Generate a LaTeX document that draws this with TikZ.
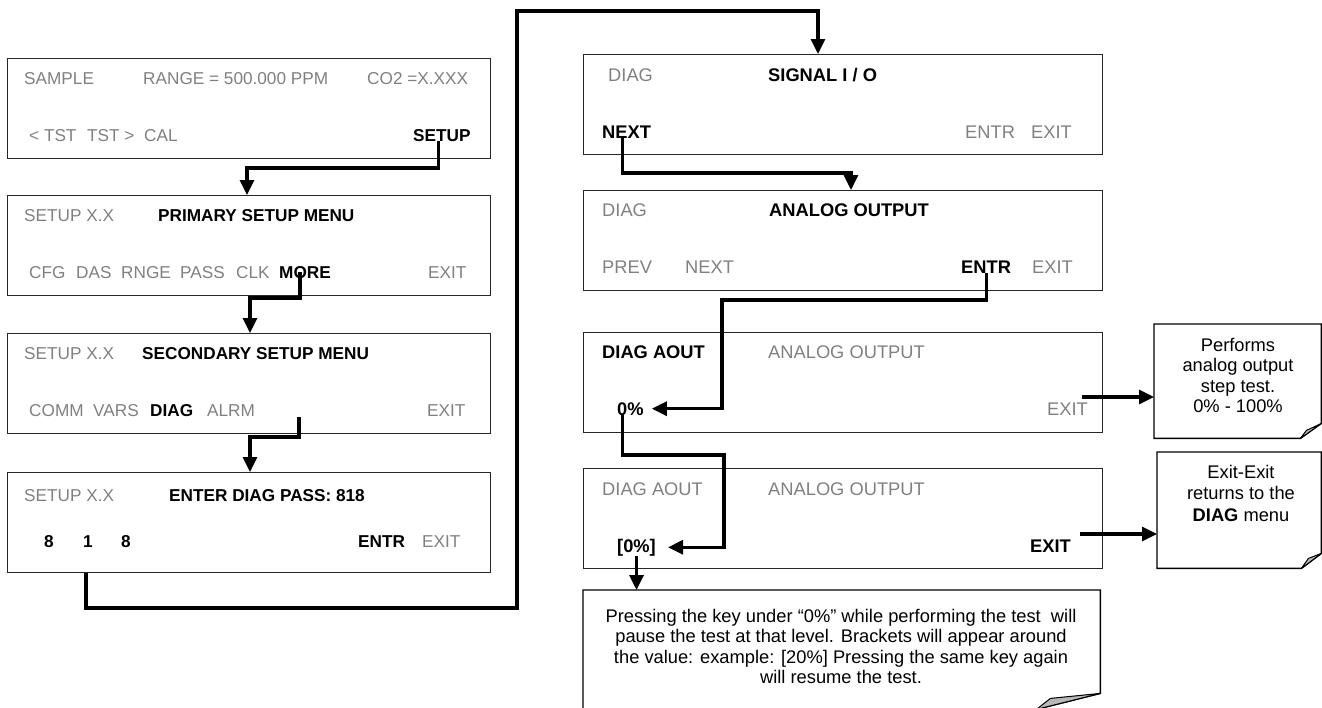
\documentclass[tikz,border=0pt]{standalone}
\usepackage{fontspec}
\setmainfont{Liberation Sans}
\usetikzlibrary{arrows.meta,calc}
\newcommand\fL{\fontsize{17.2}{20}\selectfont}
\newcommand\fR{\fontsize{18.3}{21}\selectfont}
\definecolor{keygrey}{RGB}{128,128,128}
\begin{document}
\begin{tikzpicture}[x=1pt,y=-1pt,
 panel/.style={draw=black!85, line width=1.4pt, anchor=north west, inner sep=0pt, minimum height=99.5pt},
 lpanel/.style={panel, minimum width=483pt},
 rpanel/.style={panel, minimum width=519pt},
 lg/.style={anchor=base west, inner sep=0pt, text=keygrey, font=\fL},
 lb/.style={anchor=base west, inner sep=0pt, text=black, font=\fL\bfseries},
 rg/.style={anchor=base west, inner sep=0pt, text=keygrey, font=\fR},
 rb/.style={anchor=base west, inner sep=0pt, text=black, font=\fR\bfseries},
 conn/.style={line width=3.2pt, -{Triangle[length=15pt,width=14pt]}},
 notebox/.style={draw, line width=1.4pt, line join=miter},
 foldfill/.style={fill=black!28, draw, line width=1pt, line join=round},
 nt/.style={anchor=base, inner sep=0pt, font=\fR},
 hold/.style={inner sep=0pt, anchor=north west}
]
\useasboundingbox (0,0) rectangle (1322,707);
\clip (0,0) rectangle (1322,707);

% ---------- left column panels ----------
\node[lpanel] (p1) at (7,58) {};
\node[lpanel] (p2) at (7,195) {};
\node[lpanel] (p3) at (7,333) {};
\node[lpanel] (p4) at (7,472) {};

\node[lg] (t1a) at (24,84) {SAMPLE};
\node[lg] (t1b) at (143,84) {RANGE = 500.000 PPM};
\node[lg] (t1c) at (367,84) {CO2 =X.XXX};
\node[lg] (t1d) at (29,141) {< TST};
\node[lg] (t1e) at (87,141) {TST >};
\node[lg] (t1f) at (144,141) {CAL};
\node[lb] (setup) at (413,141) {SETUP};

\node[lg] (t2a) at (24,221) {SETUP X.X};
\node[lb] (t2b) at (158,221) {PRIMARY SETUP MENU};
\node[lg] (t2c) at (29,278) {CFG};
\node[lg] (t2d) at (76,278) {DAS};
\node[lg] (t2e) at (121,278) {RNGE};
\node[lg] (t2f) at (180,278) {PASS};
\node[lg] (t2g) at (236,278) {CLK};
\node[lb] (more) at (279,278) {MORE};
\node[lg] (t2h) at (428,278) {EXIT};

\node[lg] (t3a) at (24,359) {SETUP X.X};
\node[lb] (t3b) at (142,359) {SECONDARY SETUP MENU};
\node[lg] (t3c) at (29,416) {COMM};
\node[lg] (t3d) at (93,416) {VARS};
\node[lb] (t3e) at (150,416) {DIAG};
\node[lg] (t3f) at (207,416) {ALRM};
\node[lg] (t3g) at (427,416) {EXIT};

\node[lg] (t4a) at (24,501) {SETUP X.X};
\node[lb] (t4b) at (169,501) {ENTER DIAG PASS: 818};
\node[lb] (eight1) at (44,547) {8};
\node[lb] (one) at (83,547) {1};
\node[lb] (eight2) at (121,547) {8};
\node[lb] (t4c) at (358,547) {ENTR};
\node[lg] (t4d) at (422,547) {EXIT};

% ---------- right column panels ----------
\node[rpanel] (q1) at (583,54) {};
\node[rpanel] (q2) at (583,190) {};
\node[rpanel] (q3) at (583,332) {};
\node[rpanel] (q4) at (583,468) {};

\node[rg] (u1a) at (608,81) {DIAG};
\node[rb] (u1b) at (768,81) {SIGNAL I / O};
\node[rb] (next1) at (602,138) {NEXT};
\node[rg] (u1c) at (965,138) {ENTR};
\node[rg] (u1d) at (1031,138) {EXIT};

\node[rg] (u2a) at (602,216) {DIAG};
\node[rb] (u2b) at (769,216) {ANALOG OUTPUT};
\node[rg] (u2c) at (602,273) {PREV};
\node[rg] (u2d) at (685,273) {NEXT};
\node[rb] (entr2) at (961,273) {ENTR};
\node[rg] (u2e) at (1032,273) {EXIT};

\node[rb] (u3a) at (602,358) {DIAG AOUT};
\node[rg] (u3b) at (768,358) {ANALOG OUTPUT};
\node[rb] (pct0) at (617,415) {0\%};
\node[rg] (exit3) at (1047,415) {EXIT};

\node[rg] (u4a) at (602,495) {DIAG AOUT};
\node[rg] (u4b) at (768,495) {ANALOG OUTPUT};
\node[rb] (pct1) at (617,552) {[0\%]};
\node[rb] (exit4) at (1030,552) {EXIT};

% ---------- notes ----------
\node[hold, minimum width=167pt, minimum height=114pt] (n1) at (1154,324) {};
\node[hold, minimum width=164pt, minimum height=116pt] (n2) at (1157,452) {};
\node[hold, minimum width=517pt, minimum height=119pt] (n3) at (583,590) {};

\draw[notebox] (n1.north west) -- (n1.north east) -- ([yshift=15pt]n1.south east)
  -- ([xshift=-21pt]n1.south east) -- (n1.south west) -- cycle;
\filldraw[foldfill] ([yshift=15pt]n1.south east) -- ([xshift=-15pt,yshift=8pt]n1.south east)
  -- ([xshift=-21pt]n1.south east) -- cycle;

\draw[notebox] (n2.north west) -- (n2.north east) -- ([yshift=15pt]n2.south east)
  -- ([xshift=-20pt]n2.south east) -- (n2.south west) -- cycle;
\filldraw[foldfill] ([yshift=15pt]n2.south east) -- ([xshift=-13pt,yshift=10pt]n2.south east)
  -- ([xshift=-20pt]n2.south east) -- cycle;

\draw[notebox] (n3.north west) -- (n3.north east) -- ([yshift=16pt]n3.south east)
  -- ([xshift=-64pt]n3.south east) -- (n3.south west) -- cycle;
\filldraw[foldfill] ([yshift=16pt]n3.south east) -- ([xshift=-50pt,yshift=11pt]n3.south east)
  -- ([xshift=-64pt]n3.south east) -- cycle;

\node[nt] (n1a) at (1238,351) {Performs};
\node[nt] (n1b) at (1238,371) {analog output};
\node[nt] (n1c) at (1238,392) {step test.};
\node[nt] (n1d) at (1238,412) {0\% - 100\%};

\node[nt] (n2a) at (1241,478) {Exit-Exit};
\node[nt] (n2b) at (1241,499) {returns to the};
\node[nt] (n2c) at (1241,521) {{\bfseries DIAG} menu};

\node[nt] (n3a) at (841,622) {Pressing the key under “0\%” while performing the test\ \ will};
\node[nt] (n3b) at (841,642.5) {pause the test at that level. Brackets will appear around};
\node[nt] (n3c) at (841,663) {the value: example: [20\%] Pressing the same key again};
\node[nt] (n3d) at (841,683) {will resume the test.};

% ---------- connectors ----------
\coordinate (e1) at (247,168);
\draw[conn] ([xshift=-3pt]setup.south) |- (e1) -- (e1 |- p2.north);

\coordinate (s2) at ([xshift=-5pt]more.center);
\coordinate (e2) at (250,298);
\draw[conn] (s2) |- (e2) -- (e2 |- p3.north);

\coordinate (s3) at (299,417);
\coordinate (e3) at (250,437);
\draw[conn] (s3) |- (e3) -- (e3 |- p4.north);

\coordinate (s4) at ([xshift=-2pt]one.south);
\coordinate (e4a) at (517,608);
\coordinate (e4b) at (818,11);
\draw[conn] (s4 |- p4.south) |- (e4a) |- (e4b) -- (e4b |- q1.north);

\coordinate (s5) at ([xshift=-4pt]next1.south);
\coordinate (e5) at (851,173);
\draw[conn] (s5) |- (e5) -- (e5 |- q2.north);

\coordinate (e6) at (722,300);
\draw[conn] (entr2.south) |- (e6) |- ([xshift=8pt]pct0.east);

\coordinate (s7) at ([xshift=-8pt]pct0.south);
\coordinate (e7) at (724,455);
\draw[conn] (s7) |- (e7) |- ([xshift=12pt]pct1.east);

\draw[conn] (pct1.south) -- (pct1.south |- n3.north);

\coordinate (s9) at (1082,397);
\draw[conn] (s9) -- (s9 -| n1.west);

\coordinate (s10) at (1080,534);
\draw[conn] (s10) -- (s10 -| n2.west);
\end{tikzpicture}
\end{document}
